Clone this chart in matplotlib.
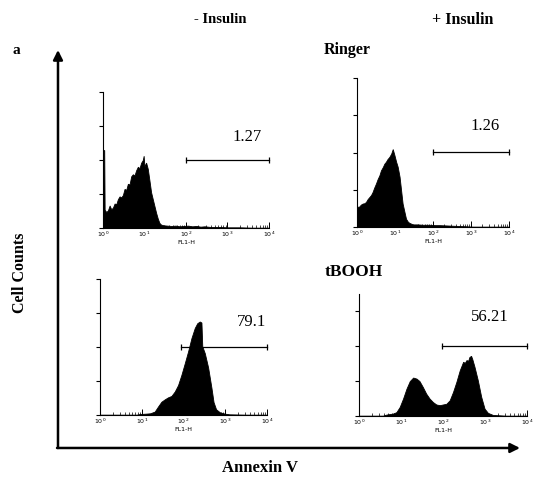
import matplotlib
matplotlib.use("Agg")
import matplotlib.pyplot as plt
import numpy as np

# histogram data: x in decades of FL1-H (log10), y in tick units
dec_a = [0.00, 0.03, 0.04, 0.08, 0.12, 0.16, 0.20, 0.24, 0.28, 0.32,
         0.36, 0.40, 0.44, 0.48, 0.52, 0.56, 0.60, 0.64, 0.68, 0.72,
         0.76, 0.80, 0.84, 0.88, 0.92, 0.96, 0.98, 1.00, 1.04, 1.08,
         1.12, 1.16, 1.20, 1.24, 1.28, 1.32, 1.36, 1.40, 1.46, 1.55,
         1.65, 1.75, 1.85, 1.95, 2.05, 2.15, 2.25, 2.35, 2.45, 2.6,
         2.8, 3.0, 3.3, 3.6, 4.0]
cnt_a = [2.29, 2.29, 0.54, 0.47, 0.52, 0.66, 0.55, 0.60, 0.72, 0.70,
         0.85, 0.93, 0.90, 0.97, 1.15, 1.12, 1.30, 1.28, 1.52, 1.58,
         1.55, 1.70, 1.80, 1.76, 1.92, 2.00, 2.12, 1.82, 1.92, 1.74,
         1.40, 1.05, 0.85, 0.65, 0.45, 0.28, 0.15, 0.10, 0.08, 0.07,
         0.06, 0.07, 0.05, 0.06, 0.07, 0.05, 0.06, 0.04, 0.05, 0.03,
         0.03, 0.02, 0.02, 0.01, 0.01]

dec_b = [0.00, 0.06, 0.10, 0.15, 0.20, 0.24, 0.28, 0.33, 0.37, 0.41,
         0.45, 0.50, 0.54, 0.59, 0.63, 0.68, 0.72, 0.76, 0.80, 0.85,
         0.90, 0.94, 0.98, 1.03, 1.07, 1.12, 1.16, 1.20, 1.25, 1.29,
         1.34, 1.38, 1.47, 1.60, 1.73, 1.90, 2.05, 2.17, 2.40, 2.61,
         2.85, 3.05, 3.5, 4.0]
cnt_b = [0.54, 0.55, 0.60, 0.63, 0.64, 0.68, 0.75, 0.81, 0.86, 0.94,
         1.05, 1.17, 1.28, 1.39, 1.52, 1.61, 1.70, 1.75, 1.82, 1.88,
         1.97, 2.09, 1.95, 1.75, 1.62, 1.35, 0.99, 0.63, 0.40, 0.22,
         0.14, 0.11, 0.07, 0.07, 0.06, 0.06, 0.05, 0.05, 0.04, 0.03,
         0.02, 0.01, 0.01, 0.01]

dec_c = [0.00, 0.50, 0.88, 0.96, 1.10, 1.20, 1.31, 1.39, 1.47, 1.55,
         1.63, 1.71, 1.79, 1.87, 1.95, 2.03, 2.11, 2.19, 2.27, 2.33,
         2.39, 2.43, 2.45, 2.51, 2.59, 2.67, 2.72, 2.78, 2.87, 2.99,
         3.10, 3.5, 4.0]
cnt_c = [0.01, 0.01, 0.01, 0.03, 0.04, 0.05, 0.10, 0.25, 0.39, 0.46,
         0.52, 0.56, 0.69, 0.88, 1.18, 1.52, 1.87, 2.26, 2.56, 2.70,
         2.75, 2.72, 2.02, 1.82, 1.40, 0.80, 0.38, 0.17, 0.08, 0.04,
         0.02, 0.01, 0.01]

dec_d = [0.00, 0.57, 0.65, 0.81, 0.89, 0.97, 1.05, 1.13, 1.21, 1.29,
         1.37, 1.44, 1.52, 1.60, 1.68, 1.76, 1.84, 1.92, 2.00, 2.08,
         2.16, 2.24, 2.32, 2.40, 2.48, 2.52, 2.56, 2.60, 2.63, 2.67,
         2.70, 2.75, 2.83, 2.91, 2.99, 3.07, 3.19, 3.5, 4.0]
cnt_d = [0.01, 0.01, 0.04, 0.07, 0.11, 0.26, 0.50, 0.78, 1.00, 1.10,
         1.07, 1.00, 0.83, 0.64, 0.50, 0.40, 0.33, 0.31, 0.33, 0.35,
         0.45, 0.69, 0.98, 1.31, 1.55, 1.52, 1.60, 1.58, 1.69, 1.72,
         1.62, 1.41, 1.02, 0.55, 0.21, 0.09, 0.03, 0.01, 0.01]

# gate markers (start decade, end decade, level) and percentages
gates = [(2.0, 4.0, 2.0), (2.0, 4.0, 2.01), (1.95, 4.0, 2.0), (1.98, 4.0, 2.01)]
pct_labels = ["1.27", "1.26", "79.1", "56.21"]
pct_pos = [(3.47, 2.68), (3.37, 2.71), (3.62, 2.74), (3.12, 2.83)]

serif = "Liberation Serif"

fig = plt.figure(figsize=(5.33, 4.78), dpi=100)


def panel(rect, dec, cnt, ytop, yticks, gate, label, lpos):
    ax = fig.add_axes(rect)
    x = 10 ** np.array(dec)
    ax.fill_between(x, 0, cnt, color="black", lw=0.6, edgecolor="black")
    ax.set_xscale("log")
    ax.set_xlim(1, 1e4)
    ax.set_ylim(0, ytop)
    ax.set_yticks(yticks)
    ax.set_yticklabels([])
    for s in ["top", "right"]:
        ax.spines[s].set_visible(False)
    for s in ["left", "bottom"]:
        ax.spines[s].set_linewidth(0.8)
    ax.patch.set_alpha(0)
    ax.tick_params(axis="y", direction="out", length=3, width=0.8)
    ax.tick_params(axis="x", which="major", direction="in", length=4,
                   width=0.7, labelsize=4.5, pad=1.5)
    ax.tick_params(axis="x", which="minor", direction="in", length=2, width=0.5)
    for t in ax.get_xticklabels():
        t.set_clip_on(False)
    ax.set_xlabel("FL1-H", fontsize=4.5, labelpad=0.5)
    # gate bar
    g0, g1, gy = gate
    ax.plot([10 ** g0, 10 ** g1], [gy, gy], color="black", lw=0.9,
            marker="|", markersize=5, markeredgewidth=0.9, clip_on=False)
    ax.text(10 ** lpos[0], lpos[1], label, fontsize=12, family=serif,
            ha="center", va="center")
    return ax


panel([0.1932, 0.5230, 0.3114, 0.2845], dec_a, cnt_a, 4, [0, 1, 2, 3, 4],
      gates[0], pct_labels[0], pct_pos[0])
panel([0.6698, 0.5251, 0.2852, 0.3117], dec_b, cnt_b, 4, [0, 1, 2, 3, 4],
      gates[1], pct_labels[1], pct_pos[1])
panel([0.1876, 0.1318, 0.3133, 0.2845], dec_c, cnt_c, 4, [0, 1, 2, 3, 4],
      gates[2], pct_labels[2], pct_pos[2])
panel([0.6735, 0.1297, 0.3152, 0.2552], dec_d, cnt_d, 3.49, [0, 1, 2, 3],
      gates[3], pct_labels[3], pct_pos[3])

# headings
fig.text(0.413, 0.960, "- Insulin", fontsize=10.5, weight="bold", family=serif,
         ha="center", va="center")
fig.text(0.869, 0.958, "+ Insulin", fontsize=11.5, weight="bold", family=serif,
         ha="center", va="center")
fig.text(0.030, 0.895, "a", fontsize=11, weight="bold", family=serif,
         ha="center", va="center")
fig.text(0.651, 0.895, "Ringer", fontsize=11.5, weight="bold", family=serif,
         ha="center", va="center")
fig.text(0.664, 0.431, "tBOOH", fontsize=12.5, weight="bold", family=serif,
         ha="center", va="center")
fig.text(0.488, 0.021, "Annexin V", fontsize=12, weight="bold", family=serif,
         ha="center", va="center")
fig.text(0.0375, 0.429, "Cell Counts", fontsize=11.5, weight="bold", family=serif,
         ha="center", va="center", rotation=90)

# big axis arrows
origin = (0.1088, 0.0628)
arrow = dict(arrowstyle="-|>", lw=1.8, color="black", mutation_scale=14,
             shrinkA=0, shrinkB=0)
fig.add_artist(matplotlib.patches.FancyArrowPatch(
    origin, (0.1088, 0.8954), transform=fig.transFigure, **arrow))
fig.add_artist(matplotlib.patches.FancyArrowPatch(
    (0.1070, 0.0628), (0.9756, 0.0628), transform=fig.transFigure, **arrow))

fig.savefig("out.png", dpi=100)
